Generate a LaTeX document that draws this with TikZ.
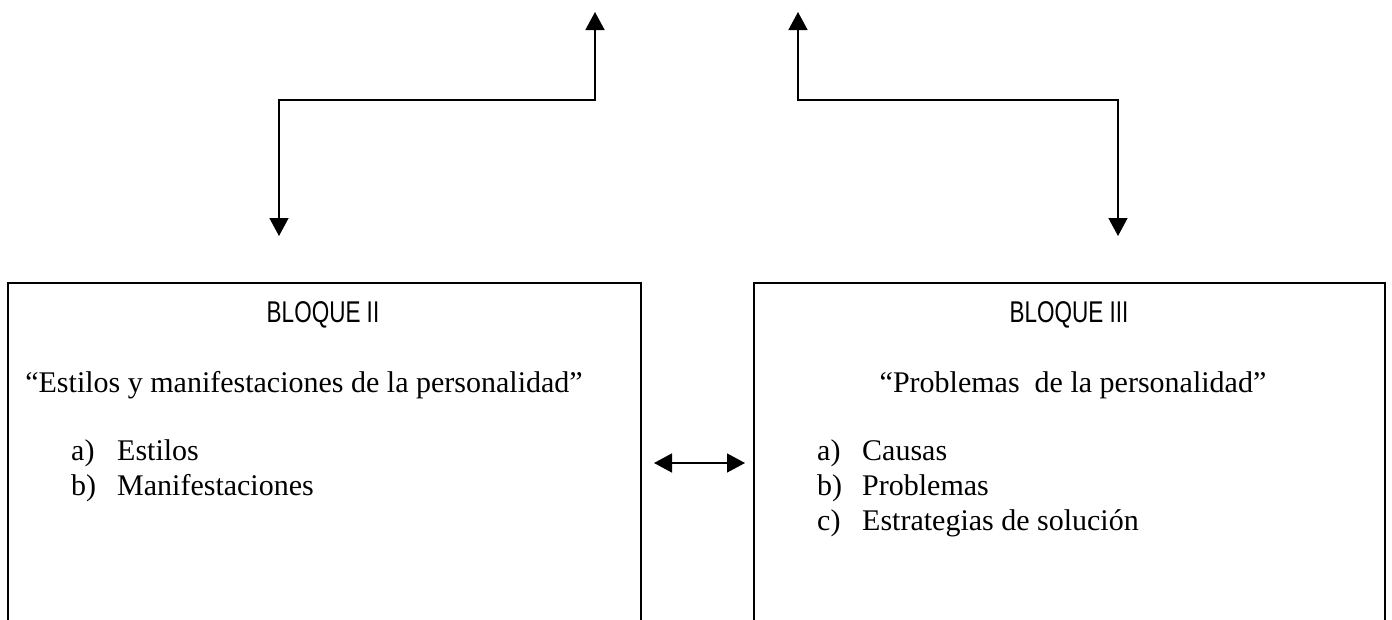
\documentclass[tikz,border=0pt]{standalone}
\usepackage{fontspec}
\setmainfont{Liberation Serif}
\newfontfamily\narrowsans[FakeStretch=0.75]{Liberation Sans}
\usetikzlibrary{arrows.meta,positioning}
\tikzset{
	bloque/.style={draw,line width=1.5pt,minimum width=633pt,minimum height=400pt,anchor=north west,inner sep=0pt},
	titulo/.style={font=\narrowsans\fontsize{30}{30}\selectfont,anchor=base},
	tema/.style={font=\fontsize{30}{30}\selectfont,anchor=base},
	item/.style={font=\fontsize{30}{30}\selectfont,anchor=base west,inner sep=0pt},
	flecha/.style={line width=1.5pt,{Triangle[width=19pt,length=18pt]}-{Triangle[width=19pt,length=18pt]}}
}
\begin{document}
\begin{tikzpicture}[x=1pt,y=-1pt]
		% page
		\useasboundingbox (0,0) rectangle (1392,619);
		\clip (0,0) rectangle (1392,619);
		
		% boxes
		\node[bloque] (b2) at (7,282) {};
		\node[bloque,minimum width=631pt] (b3) at (753,282) {};
		
		% texts
		\node[titulo] (t2) at (323,322) {BLOQUE II};
		\node[titulo] (t3) at (1069,322) {BLOQUE III};
		\node[tema] (s2) at (304,392) {``Estilos y manifestaciones de la personalidad''};
		\node[tema] (s3) at (1073,392) {``Problemas~ de la personalidad''};
		\foreach \l/\t [count=\i] in {a)/Estilos,b)/Manifestaciones} % left list
		\node[item] (e\i) at (71,425+35*\i) {\makebox[46pt][l]{\l}\t};
		\foreach \l/\t [count=\i] in {a)/Causas,b)/Problemas,c)/Estrategias de solución} % right list
		\node[item] (p\i) at (817,425+35*\i) {\makebox[45pt][l]{\l}\t};
		
		% connectors
		\coordinate (arr2) at (595,12);
		\coordinate (arr3) at (798,12);
		\coordinate (abj2) at (279,236);
		\coordinate (abj3) at (1118,236);
		\coordinate (izq) at (654,463);
		\coordinate (der) at (745,463);
		\draw[flecha] (arr2) -- ++(0,88) -| (abj2);
		\draw[flecha] (arr3) -- ++(0,88) -| (abj3);
		\draw[flecha] (izq) -- (der);
\end{tikzpicture}
\end{document}
